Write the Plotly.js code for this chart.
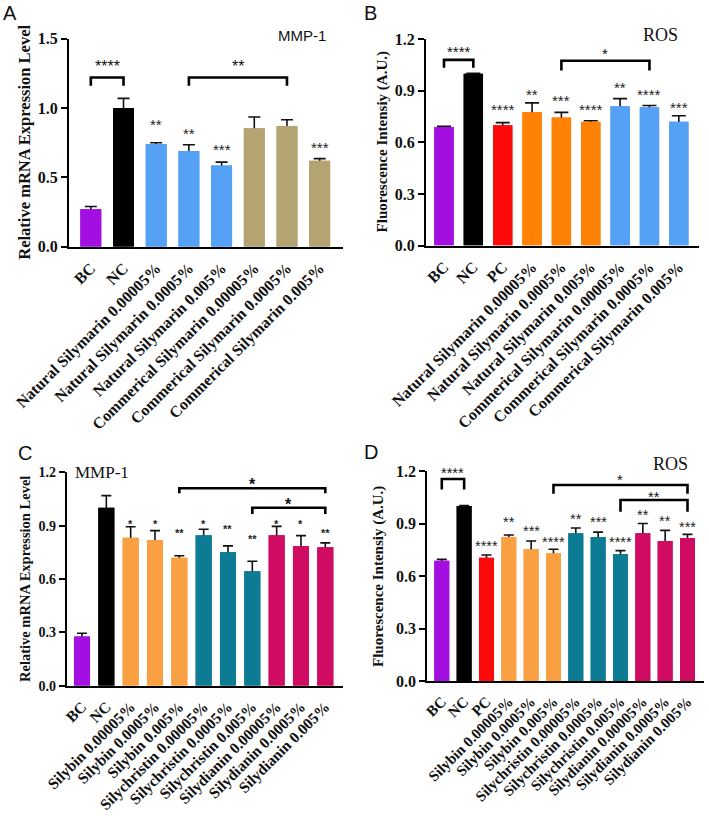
<!DOCTYPE html>
<html><head><meta charset="utf-8">
<script src="https://cdn.plot.ly/plotly-3.0.1.min.js"></script>
<style>html,body{margin:0;padding:0;background:#fff}#chart{width:709px;height:816px}</style>
</head><body><div id="chart"></div>
<script>
// ---------- Panel A : MMP-1 (silymarin) ----------
const catsA = ["BC","NC","Natural Silymarin 0.00005%","Natural Silymarin 0.0005%","Natural Silymarin 0.005%","Commerical Silymarin 0.00005%","Commerical Silymarin 0.0005%","Commerical Silymarin 0.005%"];
const meanA = [0.27, 1.00, 0.74, 0.69, 0.585, 0.855, 0.87, 0.62];
const errTopA = [0.29, 1.07, 0.75, 0.735, 0.61, 0.935, 0.915, 0.635];
const sigA = ["", "", "**", "**", "***", "", "", "***"];
const sigYA = [null, null, 0.91, 0.845, 0.727, null, null, 0.744];
const brFromA = ["BC", "Natural Silymarin 0.0005%"];
const brToA = ["NC", "Commerical Silymarin 0.0005%"];
const brYA = [1.22, 1.22];
const brLegA = [1.16, 1.16];
const brLabelA = ["****", "**"];
const brLabelYA = [1.33, 1.33];

// ---------- Panel B : ROS (silymarin) ----------
const catsB = ["BC","NC","PC","Natural Silymarin 0.00005%","Natural Silymarin 0.0005%","Natural Silymarin 0.005%","Commerical Silymarin 0.00005%","Commerical Silymarin 0.0005%","Commerical Silymarin 0.005%"];
const meanB = [0.69, 1.00, 0.70, 0.775, 0.745, 0.72, 0.81, 0.805, 0.72];
const errTopB = [0.693, 1.002, 0.715, 0.83, 0.775, 0.726, 0.855, 0.815, 0.755];
const sigB = ["", "", "****", "**", "***", "****", "**", "****", "***"];
const sigYB = [null, null, 0.812, 0.90, 0.865, 0.812, 0.94, 0.90, 0.824];
const brFromB = ["BC", "Natural Silymarin 0.0005%"];
const brToB = ["NC", "Commerical Silymarin 0.0005%"];
const brYB = [1.08, 1.075];
const brLegB = [1.034, 1.018];
const brLabelB = ["****", "*"];
const brLabelYB = [1.15, 1.14];

// ---------- Panel C : MMP-1 (components) ----------
const catsC = ["BC","NC","Silybin 0.00005%","Silybin 0.0005%","Silybin 0.005%","Silychristin 0.00005%","Silychristin 0.0005%","Silychristin 0.005%","Silydianin 0.00005%","Silydianin 0.0005%","Silydianin 0.005%"];
const meanC = [0.276, 1.00, 0.832, 0.819, 0.72, 0.846, 0.75, 0.643, 0.846, 0.784, 0.778];
const errTopC = [0.295, 1.069, 0.894, 0.872, 0.731, 0.88, 0.786, 0.70, 0.896, 0.844, 0.803];
const sigC = ["", "", "*", "*", "**", "*", "**", "**", "*", "*", "**"];
const sigYC = [null, null, 0.926, 0.926, 0.876, 0.926, 0.90, 0.842, 0.926, 0.926, 0.876];
const brFromC = ["Silybin 0.005%", "Silychristin 0.005%"];
const brToC = ["Silydianin 0.005%", "Silydianin 0.005%"];
const brYC = [1.11, 1.001];
const brLegC = [1.082, 0.966];
const brLabelC = ["*", "*"];
const brLabelYC = [1.153, 1.04];

// ---------- Panel D : ROS (components) ----------
const catsD = ["BC","NC","PC","Silybin 0.00005%","Silybin 0.0005%","Silybin 0.005%","Silychristin 0.00005%","Silychristin 0.0005%","Silychristin 0.005%","Silydianin 0.00005%","Silydianin 0.0005%","Silydianin 0.005%"];
const meanD = [0.687, 1.00, 0.705, 0.823, 0.753, 0.73, 0.844, 0.823, 0.724, 0.844, 0.80, 0.817];
const errTopD = [0.695, 1.002, 0.72, 0.834, 0.80, 0.753, 0.874, 0.851, 0.745, 0.90, 0.861, 0.838];
const sigD = ["", "", "****", "**", "***", "****", "**", "***", "****", "**", "**", "***"];
const sigYD = [null, null, 0.79, 0.93, 0.878, 0.815, 0.945, 0.93, 0.815, 0.967, 0.935, 0.90];
const brFromD = ["BC", "Silybin 0.005%", "Silychristin 0.005%"];
const brToD = ["NC", "Silydianin 0.005%", "Silydianin 0.005%"];
const brYD = [1.154, 1.12, 1.034];
const brLegD = [1.095, 1.07, 0.967];
const brLabelD = ["****", "*", "**"];
const brLabelYD = [1.21, 1.17, 1.07];

// ---------- colours ----------
const PURPLE = "#A30FE0", BLACK = "#000000", BLUE = "#55A1F6", KHAKI = "#B3A472",
      RED = "#FF0A0A", ORANGE = "#FF8106", LORANGE = "#F9A042", TEAL = "#0E7B94", MAGENTA = "#CF0B62";
const colorsA = [PURPLE, BLACK, BLUE, BLUE, BLUE, KHAKI, KHAKI, KHAKI];
const colorsB = [PURPLE, BLACK, RED, ORANGE, ORANGE, ORANGE, BLUE, BLUE, BLUE];
const colorsC = [PURPLE, BLACK, LORANGE, LORANGE, LORANGE, TEAL, TEAL, TEAL, MAGENTA, MAGENTA, MAGENTA];
const colorsD = [PURPLE, BLACK, RED, LORANGE, LORANGE, LORANGE, TEAL, TEAL, TEAL, MAGENTA, MAGENTA, MAGENTA];

const SERIF = "Liberation Serif, Times New Roman, serif";
const SANS = "Liberation Sans, Arial, sans-serif";
const W = 709, H = 816;

const traces = [];
const annotations = [];
const layout = {
  width: W, height: H, margin: {l: 0, r: 0, t: 0, b: 0},
  paper_bgcolor: "#fff", plot_bgcolor: "rgba(0,0,0,0)",
  showlegend: false, barmode: "overlay", annotations: annotations
};

function panel(o) {
  const xa = "x" + o.idx, ya = "y" + o.idx;
  const xName = "xaxis" + o.idx, yName = "yaxis" + o.idx;
  const pxPerUnit = (o.py[0] - o.py[1]) / (o.yr[1] - o.yr[0]);
  function place(y) {
    return y > o.yr[1] ? {y: o.yr[1], extra: (y - o.yr[1]) * pxPerUnit} : {y: y, extra: 0};
  }
  const plus = o.err.map((e, i) => e - o.mean[i]);
  traces.push({type: "bar", x: o.cats, y: o.mean, xaxis: xa, yaxis: ya, width: o.bw,
    marker: {color: o.colors, line: {width: 0}}, hoverinfo: "x+y",
    error_y: {type: "data", array: plus, symmetric: true, color: "#111", thickness: 1.6, width: o.cap}});
  traces.push({type: "bar", x: o.cats, y: o.mean, xaxis: xa, yaxis: ya, width: o.bw,
    marker: {color: o.colors, line: {width: 0}}, hoverinfo: "skip"});
  o.brFrom.forEach((f, i) => {
    traces.push({type: "scatter", mode: "lines", xaxis: xa, yaxis: ya,
      x: [f, f, o.brTo[i], o.brTo[i]], y: [o.brLeg[i], o.brY[i], o.brY[i], o.brLeg[i]],
      line: {color: "#000", width: 2.6}, hoverinfo: "skip"});
    const p = place(o.brLabelY[i]);
    annotations.push({xref: xa, yref: ya, showarrow: false,
      x: (o.cats.indexOf(f) + o.cats.indexOf(o.brTo[i])) / 2, y: p.y,
      text: o.brLabel[i], yanchor: "middle", yshift: o.brShift + p.extra,
      font: {family: o.brFont, size: o.brSize, color: "#111", weight: o.brWeight}});
  });
  o.sig.forEach((s, i) => {
    if (!s) return;
    const p = place(o.sigY[i]);
    annotations.push({xref: xa, yref: ya, showarrow: false, x: o.cats[i], y: p.y,
      text: s, yanchor: "middle", yshift: o.sigShift + p.extra,
      font: {family: o.sigFont, size: o.sigSize, color: "#222", weight: o.sigWeight}});
  });
  const px = o.px, py = o.py;
  layout[xName] = {domain: [px[0] / W, px[1] / W], anchor: ya, type: "category", range: o.xr,
    showline: true, linewidth: 2, linecolor: "#000", ticks: "", showgrid: false, zeroline: false,
    tickangle: -45, automargin: false, fixedrange: true, ticklabelstandoff: o.xstand,
    tickfont: {family: SERIF, size: o.xfs, color: "#111", weight: "bold"}};
  layout[yName] = {domain: [1 - py[0] / H, 1 - py[1] / H], anchor: xa, range: o.yr,
    tickvals: o.ytv, tickformat: ".1f", ticks: "outside", ticklen: 6, tickwidth: 2, tickcolor: "#000",
    showline: true, linewidth: 2, linecolor: "#000", showgrid: false, zeroline: false,
    automargin: false, fixedrange: true,
    tickfont: {family: SERIF, size: o.yfs, color: "#111", weight: "bold"}};
  annotations.push({xref: "paper", yref: "paper", x: o.titleX / W, y: 1 - ((py[0] + py[1]) / 2) / H,
    text: o.ytitle, textangle: -90, showarrow: false, xanchor: "center", yanchor: "middle",
    font: {family: SERIF, size: o.ytfs, color: "#111", weight: 600}});
}

panel({idx: 1, cats: catsA, mean: meanA, err: errTopA, colors: colorsA, sig: sigA, sigY: sigYA,
  brFrom: brFromA, brTo: brToA, brY: brYA, brLeg: brLegA, brLabel: brLabelA, brLabelY: brLabelYA,
  px: [69, 343], py: [246.7, 38.7], xr: [-0.667, 7.713], yr: [0, 1.5], ytv: [0, 0.5, 1.0, 1.5],
  bw: 0.64, cap: 6, xfs: 16, xstand: 4, yfs: 16, ytitle: "Relative mRNA Expression Level", ytfs: 16.5, titleX: 25,
  sigFont: SANS, sigSize: 15, sigWeight: "normal", sigShift: -3.5,
  brFont: SANS, brSize: 16, brWeight: "normal", brShift: -4});
panel({idx: 2, cats: catsB, mean: meanB, err: errTopB, colors: colorsB, sig: sigB, sigY: sigYB,
  brFrom: brFromB, brTo: brToB, brY: brYB, brLeg: brLegB, brLabel: brLabelB, brLabelY: brLabelYB,
  px: [426, 699], py: [245.5, 39.3], xr: [-0.613, 8.688], yr: [0, 1.2], ytv: [0, 0.3, 0.6, 0.9, 1.2],
  bw: 0.66, cap: 7, xfs: 16, xstand: 4, yfs: 16, ytitle: "Fluorescence Intensiy (A.U.)", ytfs: 15, titleX: 382,
  sigFont: SANS, sigSize: 15, sigWeight: "normal", sigShift: -3.5,
  brFont: SANS, brSize: 15, brWeight: "normal", brShift: -3.5});
panel({idx: 3, cats: catsC, mean: meanC, err: errTopC, colors: colorsC, sig: sigC, sigY: sigYC,
  brFrom: brFromC, brTo: brToC, brY: brYC, brLeg: brLegC, brLabel: brLabelC, brLabelY: brLabelYC,
  px: [66.7, 343], py: [685.7, 472.3], xr: [-0.629, 10.727], yr: [0, 1.2], ytv: [0, 0.3, 0.6, 0.9, 1.2],
  bw: 0.66, cap: 5, xfs: 15.5, xstand: 4, yfs: 14, ytitle: "Relative mRNA Expression Level", ytfs: 14.5, titleX: 25,
  sigFont: SANS, sigSize: 11, sigWeight: "bold", sigShift: -3,
  brFont: SANS, brSize: 16, brWeight: "bold", brShift: -4});
panel({idx: 4, cats: catsD, mean: meanD, err: errTopD, colors: colorsD, sig: sigD, sigY: sigYD,
  brFrom: brFromD, brTo: brToD, brY: brYD, brLeg: brLegD, brLabel: brLabelD, brLabelY: brLabelYD,
  px: [427.3, 704], py: [681, 471], xr: [-0.649, 11.739], yr: [0, 1.2], ytv: [0, 0.3, 0.6, 0.9, 1.2],
  bw: 0.67, cap: 5, xfs: 15, xstand: 4, yfs: 16, ytitle: "Fluorescence Intensiy (A.U.)", ytfs: 15, titleX: 378,
  sigFont: SANS, sigSize: 14.5, sigWeight: "normal", sigShift: -3.5,
  brFont: SANS, brSize: 14.5, brWeight: "normal", brShift: -3.5});

function paperText(t, x, y, fam, size) {
  annotations.push({xref: "paper", yref: "paper", x: x / W, y: 1 - y / H, text: t, showarrow: false,
    xanchor: "center", yanchor: "middle", font: {family: fam, size: size, color: "#111"}});
}
paperText("A", 10, 13, SANS, 20);
paperText("B", 370, 13, SANS, 20);
paperText("C", 25, 453, SANS, 20);
paperText("D", 371, 452, SANS, 20);
paperText("MMP-1", 302, 36, SANS, 15);
paperText("ROS", 660, 35, SERIF, 18);
paperText("MMP-1", 102, 472, SERIF, 17);
paperText("ROS", 670, 464, SERIF, 18);

Plotly.newPlot("chart", traces, layout, {staticPlot: true, displayModeBar: false});
</script></body></html>
